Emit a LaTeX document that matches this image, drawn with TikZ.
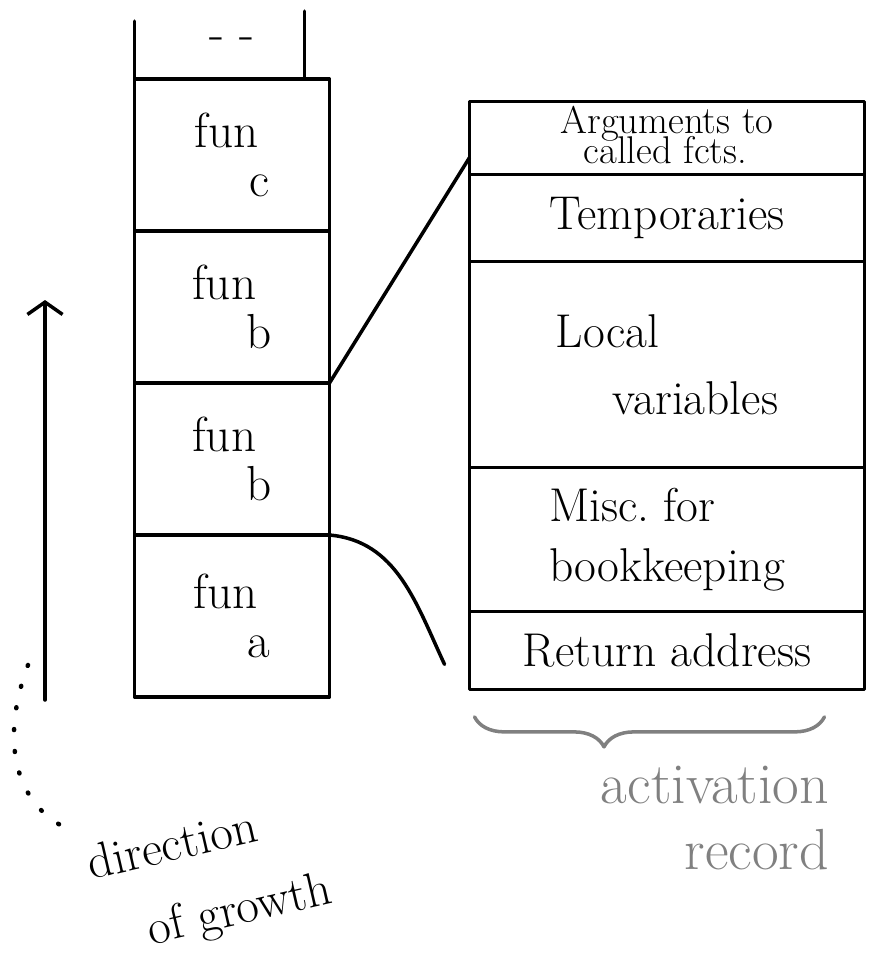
\documentclass[tikz,border=0pt]{standalone}
\usetikzlibrary{positioning,arrows.meta,decorations.pathreplacing}

\begin{document}
\begin{tikzpicture}[
    x=0.02cm, y=-0.02cm,
    line width=2pt,
    line cap=round, line join=round,
    frame/.style={draw, minimum width=3.9cm, minimum height=3.04cm,
      align=left, inner sep=0pt, outer sep=0pt, font=\fontsize{28}{28}\selectfont},
    field/.style={draw, minimum width=7.9cm, align=left, inner sep=0pt,
      outer sep=0pt, font=\fontsize{27}{30}\selectfont},
    note/.style={align=left, font=\fontsize{28}{30}\selectfont}
  ]
  \useasboundingbox (0,0) rectangle (877,958);

  % the stack, one frame per call
  \node[frame, minimum height=3.24cm] (funA) at (232,616) {fun\\\hspace{1.1em}a};
  \node[frame] (funB1) [above=0pt of funA]  {fun\\\hspace{1.1em}b};
  \node[frame] (funB2) [above=0pt of funB1] {fun\\\hspace{1.1em}b};
  \node[frame] (funC)  [above=0pt of funB2] {fun\\\hspace{1.1em}c};

  % open top of the stack
  \node[note, inner sep=0pt] (more) [above=0.55cm of funC] {- -};
  \draw (funC.north west) -- ++(0,-58);
  \draw ([xshift=-0.5cm]funC.north east) -- ++(0,-68);

  % growth arrow
  \coordinate (growBase) at (45,700);
  \coordinate (growTip)  at (45,300);
  \draw[-{Straight Barb[length=7pt,width=20pt]}] (growBase) -- (growTip);
  \coordinate (dotsTop) at (28,665);
  \coordinate (dotsEnd) at (62,826);
  \draw[line width=2.6pt, dash pattern=on 0.5pt off 12pt]
    (dotsTop) .. controls (0,740) and (15,800) .. (dotsEnd);
  \node[note, rotate=13] (growDir) at (172,844) {direction};
  \node[note, rotate=13] (growOf)  at (240,912) {of growth};

  % activation record fields
  \node[field, minimum height=1.46cm, font=\fontsize{22}{22}\selectfont]
    (args) at (667,138) {Arguments to\\[-5pt]\hspace{0.6em}called fcts.\rule[-4pt]{0pt}{4pt}};
  \node[field, minimum height=1.74cm] (temps)  [below=0pt of args]   {Temporaries};
  \node[field, minimum height=4.12cm] (locals) [below=0pt of temps]  {Local\\[8pt]\hspace{1.2em}variables};
  \node[field, minimum height=2.88cm] (misc)   [below=0pt of locals] {Misc.\ for\\[4pt]bookkeeping};
  \node[field, minimum height=1.56cm] (ret)    [below=0pt of misc]   {Return address};

  % frame -> record
  \draw (funB2.south east) -- ([yshift=0.34cm]args.south west);
  \draw (funB1.south east) to[out=-5, in=115] ([shift={(-0.5cm,0.5cm)}]ret.south west);

  % brace and label
  \draw[gray, decorate, decoration={brace, mirror, amplitude=0.6cm, aspect=0.37}]
    ([shift={(0.1cm,-0.55cm)}]ret.south west) -- ([shift={(-0.8cm,-0.55cm)}]ret.south east);
  \node[note, gray, align=right, font=\fontsize{33}{38}\selectfont]
    (actRec) at (715,818) {activation\\record\hspace{0.3em}};

\end{tikzpicture}
\end{document}
